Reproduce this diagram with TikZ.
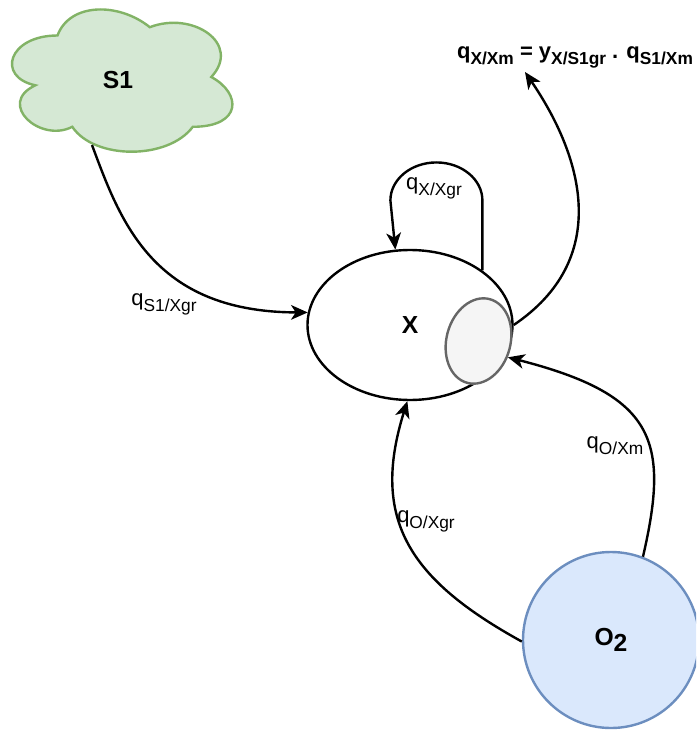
\documentclass[tikz,border=0pt]{standalone}
\usepackage{fontspec}
\setmainfont{Liberation Sans}
\usetikzlibrary{arrows.meta,shapes.geometric}
\definecolor{cloudfill}{HTML}{D5E8D4}
\definecolor{cloudline}{HTML}{82B366}
\definecolor{bluefill}{HTML}{DAE8FC}
\definecolor{blueline}{HTML}{6C8EBF}
\definecolor{grayfill}{HTML}{F5F5F5}
\definecolor{grayline}{HTML}{666666}
% rate symbol with a lowered, slightly smaller index
\newcommand{\qsub}[2]{#1\raisebox{-4.5pt}{\fontsize{13}{13}\selectfont #2}}
\begin{document}
\begin{tikzpicture}[x=0.75pt, y=-0.75pt,
  flow/.style={line width=1.8pt, -{Stealth[length=12.5pt, width=11pt, inset=3.5pt]}},
  lbl/.style={font=\fontsize{16.5}{16.5}\selectfont, inner sep=1pt},
  big/.style={font=\bfseries\fontsize{18.5}{18.5}\selectfont}]
\useasboundingbox (0,0) rectangle (696,731);
\clip (0,0) rectangle (696,731);

% substrate cloud
\draw[cloudline, fill=cloudfill, line width=1.8pt]
  (57.5,35.5) .. controls (8.3,35.5) and (-4,77) .. (35.4,85.3)
  .. controls (-4,103.6) and (40.3,143.4) .. (72.3,126.8)
  .. controls (94.4,160) and (168.2,160) .. (192.8,126.8)
  .. controls (242,126.8) and (242,93.6) .. (211.3,77)
  .. controls (242,43.8) and (192.8,10.6) .. (149.8,27.2)
  .. controls (119,2.3) and (69.8,2.3) .. (57.5,35.5) -- cycle;
\node[big] (s1) at (118,80) {S1};
\coordinate (s1out) at (92,145);

% biomass with its maintenance part
\node[ellipse, draw, line width=1.8pt, minimum width=153.75pt, minimum height=112.5pt, inner sep=0pt, big] (x) at (410,325) {X};
\node[ellipse, draw=grayline, fill=grayfill, line width=1.8pt, minimum width=48pt, minimum height=65pt, rotate=-15] (xm) at (478.5,341) {};

% oxygen
\node[circle, draw=blueline, fill=bluefill, line width=1.8pt, minimum size=132pt, big] (o2) at (611,640) {O\raisebox{-4pt}{2}};

% yield relation
\node[font=\bfseries\fontsize{16.5}{16.5}\selectfont] (eq) at (575,57) {\qsub{q}{X/Xm} = \qsub{y}{X/S1gr} . \qsub{q}{S1/Xm}};
\coordinate (eqin) at (525,72);

% rate labels
\node[lbl] (ls1) at (164,304) {\qsub{q}{S1/Xgr}};
\node[lbl] (lxx) at (434,188) {\qsub{q}{X/Xgr}};
\node[lbl] (lom) at (615,446) {\qsub{q}{O/Xm}};
\node[lbl] (log) at (426,521) {\qsub{q}{O/Xgr}};

% fluxes
\draw[flow] (s1out) .. controls (120,220) and (152,312) .. (x.173);
\draw[flow] (x.37) -- ++(0,-70) arc[start angle=0, end angle=-180, x radius=46, y radius=38] -- (x.101);
\draw[flow] (x.east) .. controls (610,260) and (585,160) .. (eqin);
\draw[flow] (o2.69) .. controls (670,440) and (655,395) .. (xm.-14);
\draw[flow] (o2.181) .. controls (410,580) and (370,520) .. (x.-92);
\end{tikzpicture}
\end{document}
